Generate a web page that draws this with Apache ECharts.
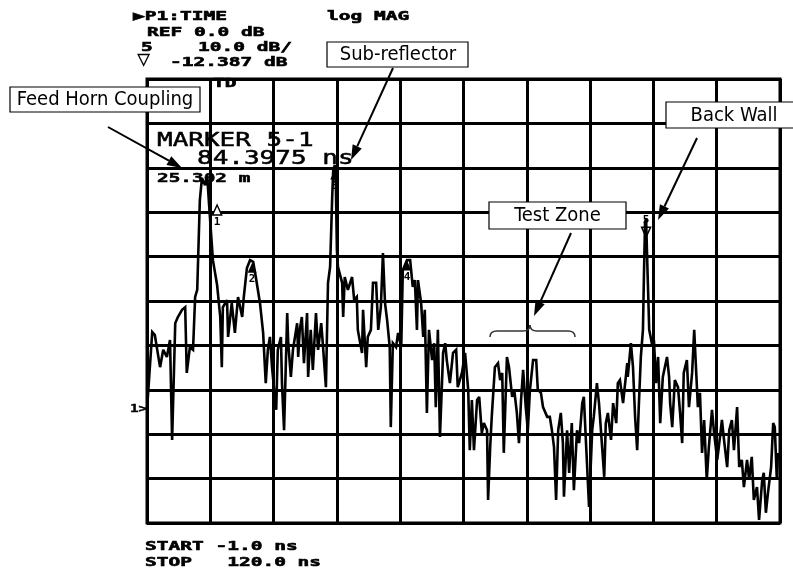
<!DOCTYPE html>
<html><head><meta charset="utf-8">
<script src="https://cdn.jsdelivr.net/npm/echarts@6/dist/echarts.min.js"></script>
<style>html,body{margin:0;padding:0;background:#fff}#c{width:793px;height:577px}</style>
</head><body><div id="c"></div>
<script>
// ---- axis settings (time domain, log MAG) ----
const startNs = -1.0, stopNs = 120.0;
const topDb = 0, bottomDb = -100, dbPerDiv = 10;

// ---- trace ----
const timeNs = [
 -1.0,0.0,0.5,1.5,2.1,2.8,3.4,3.8,4.4,4.9,5.7,6.3,6.6,7.2,7.8,8.2,8.6,9.1,9.5,10.1,
 10.5,11.0,11.6,12.4,13.0,13.3,13.5,14.3,14.5,15.2,15.8,16.4,17.2,17.5,18.1,18.7,19.3,19.8,20.6,21.2,
 21.7,22.1,22.5,22.9,23.3,23.7,24.0,24.6,24.8,25.2,25.8,26.0,26.5,26.9,27.7,27.9,28.2,28.6,29.0,29.6,
 29.8,30.3,30.7,31.3,31.7,32.3,32.6,33.2,33.6,34.0,34.4,34.6,34.9,35.1,35.3,35.5,36.3,36.5,36.8,37.4,
 38.2,38.6,39.1,39.3,40.1,40.3,40.9,41.2,41.8,42.2,42.8,43.2,43.7,44.1,44.5,44.9,45.4,45.6,46.0,46.6,
 47.0,47.6,47.9,48.7,49.3,49.8,50.2,50.6,50.8,51.4,51.8,52.1,52.5,52.9,53.5,53.9,54.2,54.6,55.0,55.6,
 56.0,56.3,56.9,57.5,58.1,58.4,59.2,59.8,60.4,60.7,61.1,61.5,62.1,62.5,63.0,63.4,64.0,64.2,64.6,64.9,
 65.5,66.1,66.5,66.9,67.2,67.8,68.2,68.8,69.2,69.7,70.1,70.5,70.9,71.4,71.8,72.2,72.8,73.4,73.7,74.3,
 74.7,75.5,76.0,76.4,76.8,77.2,77.6,78.1,78.5,78.7,79.3,79.7,80.2,80.6,81.2,81.6,82.2,82.5,83.1,83.5,
 84.1,84.4,85.0,85.4,86.0,86.4,86.7,87.1,87.7,88.1,88.7,89.0,89.4,90.0,90.4,90.8,90.9,91.5,91.9,92.3,
 92.7,93.0,93.4,93.8,94.0,94.2,94.4,94.6,95.0,95.5,95.9,96.3,96.7,97.1,97.6,98.4,98.8,99.0,99.4,99.9,
 100.5,100.9,101.3,101.6,102.2,102.6,103.2,103.6,103.9,104.3,104.7,105.1,105.5,106.0,106.4,107.0,107.4,108.0,108.3,108.9,
 109.3,109.9,110.3,110.8,111.2,111.8,112.2,112.7,113.1,113.7,114.1,114.6,115.0,115.6,116.0,116.6,116.9,117.3,117.7,118.3,
 118.7,119.0,119.4,119.6
];
const magDb = [
 -74.5,-57.0,-57.7,-64.9,-61.0,-62.6,-58.8,-81.3,-55.0,-53.6,-52.0,-51.4,-66.2,-60.4,-61.0,-49.1,-47.5,-27.3,-22.3,-23.9,
 -21.8,-30.6,-40.8,-46.4,-53.6,-64.9,-51.4,-49.8,-58.1,-50.5,-57.2,-49.1,-53.6,-49.1,-42.6,-40.8,-41.2,-44.6,-50.5,-57.2,
 -68.5,-61.0,-58.1,-64.9,-70.0,-74.5,-61.0,-58.1,-68.5,-79.1,-52.7,-59.5,-67.1,-61.0,-55.0,-62.6,-56.5,-53.6,-64.0,-52.7,
 -67.1,-56.5,-65.5,-52.7,-61.0,-55.0,-59.5,-69.4,-45.9,-42.3,-26.6,-20.5,-19.4,-23.9,-38.5,-42.3,-45.9,-53.6,-44.6,-47.5,
 -44.6,-49.8,-49.1,-56.5,-61.7,-52.0,-64.9,-58.1,-56.5,-45.9,-45.9,-56.5,-51.4,-39.2,-50.5,-54.3,-60.4,-78.4,-59.5,-60.4,
 -57.2,-60.4,-43.0,-40.8,-40.8,-46.8,-45.3,-56.5,-45.3,-50.5,-58.1,-52.0,-75.2,-56.5,-63.3,-59.5,-73.9,-56.5,-80.6,-61.7,
 -59.5,-63.3,-68.5,-61.7,-61.0,-69.4,-66.2,-61.7,-70.0,-83.6,-72.3,-83.6,-72.3,-71.6,-79.7,-77.5,-79.1,-94.8,-82.9,-76.1,
 -64.9,-64.0,-67.8,-66.2,-84.2,-62.6,-64.9,-71.6,-70.0,-75.2,-82.0,-72.3,-65.5,-73.9,-79.1,-70.0,-63.3,-63.3,-70.0,-70.7,
 -73.9,-76.1,-76.1,-79.1,-82.9,-94.8,-79.1,-75.2,-82.0,-94.1,-79.1,-88.7,-77.5,-92.6,-79.1,-82.0,-73.0,-71.6,-86.5,-96.4,
 -79.1,-76.1,-68.5,-73.0,-82.9,-89.6,-77.5,-75.2,-81.3,-73.0,-77.5,-68.5,-67.8,-73.0,-68.5,-64.0,-67.1,-59.5,-64.9,-76.1,
 -83.6,-73.9,-62.6,-56.5,-43.7,-32.4,-31.3,-40.1,-56.5,-59.5,-58.8,-68.5,-62.6,-77.5,-67.1,-62.6,-67.1,-73.0,-78.4,-67.8,
 -69.4,-75.2,-82.0,-66.2,-63.3,-73.9,-66.2,-56.5,-64.0,-73.9,-70.7,-84.2,-76.8,-90.3,-82.9,-74.5,-79.7,-85.8,-82.9,-76.8,
 -81.3,-87.4,-79.1,-76.8,-83.6,-73.9,-87.4,-85.8,-91.9,-85.8,-90.3,-85.1,-94.8,-91.9,-99.3,-90.3,-88.7,-97.7,-93.2,-87.4,
 -77.5,-78.4,-90.3,-84.2
];

// ---- trace markers ----
const markerLabels = ['1', '2', '3', '4', '5'];
const markerNs = [12.4, 19.1, 34.9, 48.7, 94.4];
const markerDb = [-29.5, -42.5, -21.5, -42.0, -34.5];

// ---- instrument annotation text ----
const headerText = ['\u25B6P1:TIME', 'log MAG', 'REF 0.0 dB', '5', '10.0 dB/', '-12.387 dB', 'TD'];
const markerReadout = ['MARKER 5-1', '84.3975 ns', '25.302 m'];
const footerText = ['START -1.0 ns', 'STOP   120.0 ns'];
const calloutLabels = ['Feed Horn Coupling', 'Sub-reflector', 'Back Wall', 'Test Zone'];

const trace = timeNs.map((t, i) => [t, magDb[i]]);

const MONO = "'DejaVu Sans Mono', 'Liberation Mono', monospace";
const COND = "'Liberation Sans Narrow', 'DejaVu Sans Condensed', 'Liberation Sans', sans-serif";

function txt(s, x, y, size, weight, sx, family, align, strokeW) {
  const st = {
    text: s, fill: '#000',
    font: (weight || 'normal') + ' ' + size + 'px ' + (family || MONO),
    align: align || 'left', verticalAlign: 'middle',
    textAlign: align || 'left', textVerticalAlign: 'middle'
  };
  if (strokeW) { st.stroke = '#000'; st.lineWidth = strokeW; }
  return { type: 'text', x: x, y: y, scaleX: sx || 1, z: 20, style: st };
}
function arrow(x1, y1, x2, y2) {
  const a = Math.atan2(y2 - y1, x2 - x1), L = 15, W = 5;
  const bx = x2 - L * Math.cos(a), by = y2 - L * Math.sin(a);
  const px = -Math.sin(a) * W, py = Math.cos(a) * W;
  return [
    { type: 'line', z: 21, shape: { x1: x1, y1: y1, x2: bx, y2: by }, style: { stroke: '#000', lineWidth: 2 } },
    { type: 'polygon', z: 21, shape: { points: [[x2, y2], [bx + px, by + py], [bx - px, by - py]] }, style: { fill: '#000' } }
  ];
}
function box(label, x, y, w, h, cx) {
  return [
    { type: 'rect', z: 19, shape: { x: x, y: y, width: w, height: h }, style: { fill: '#fff', stroke: '#000', lineWidth: 1.2 } },
    txt(label, cx, y + h / 2 + 0.5, 20, 'normal', 1.0, COND, 'center')
  ];
}
function curve(x1, y1, cx, cy, x2, y2) {
  return { type: 'bezierCurve', z: 21, shape: { x1: x1, y1: y1, cpx1: cx, cpy1: cy, x2: x2, y2: y2 },
           style: { fill: null, stroke: '#333', lineWidth: 1.5 } };
}
function seg(x1, y1, x2, y2) {
  return { type: 'line', z: 21, shape: { x1: x1, y1: y1, x2: x2, y2: y2 }, style: { stroke: '#333', lineWidth: 1.5 } };
}

const graphics = [].concat(
  txt(headerText[0], 133, 17, 13, 'bold', 1.5, null, null, 0.6),
  txt(headerText[1], 327, 17, 13, 'bold', 1.5, null, null, 0.6),
  txt(headerText[2], 147, 32.5, 13, 'bold', 1.5, null, null, 0.6),
  txt(headerText[3], 141, 47.5, 13, 'bold', 1.5, null, null, 0.6),
  txt(headerText[4], 198, 48, 13, 'bold', 1.5, null, null, 0.6),
  txt('\u25BD', 137, 60, 22, 'normal', 1.0),
  txt(headerText[5], 170, 62.5, 13, 'bold', 1.5, null, null, 0.6),
  txt(headerText[6], 213, 84, 13, 'bold', 1.5, null, null, 0.6),
  txt(markerReadout[0], 157, 140.5, 20, 'normal', 1.3, null, null, 0.5),
  txt(markerReadout[1], 197, 158.5, 20, 'normal', 1.3, null, null, 0.5),
  txt(markerReadout[2], 157, 178.5, 12.5, 'bold', 1.55, null, null, 0.5),
  txt('1>', 130, 409, 11, 'bold', 1.3, null, null, 0.4),
  txt(footerText[0], 145, 546.5, 13, 'bold', 1.5, null, null, 0.6),
  txt(footerText[1], 145, 562.5, 13, 'bold', 1.5, null, null, 0.6),
  box(calloutLabels[0], 10, 87, 190, 25, 105),
  arrow(108, 127, 182, 168),
  box(calloutLabels[1], 327, 42, 141, 25, 398),
  arrow(393, 68, 351, 160),
  box(calloutLabels[2], 666, 102, 140, 26, 734),
  arrow(697, 138, 658, 220),
  box(calloutLabels[3], 489, 202, 137, 27, 557.5),
  arrow(571, 233, 534, 316),
  curve(490, 337, 490, 331, 497, 331),
  seg(497, 331, 523, 331),
  curve(523, 331, 530, 331, 530, 325),
  curve(530, 325, 530, 331, 537, 331),
  seg(537, 331, 568, 331),
  curve(568, 331, 575, 331, 575, 337)
);

const markData = markerNs.map((t, i) => ({
  coord: [t, markerDb[i]],
  symbol: 'triangle',
  symbolSize: [9, 10],
  symbolRotate: i === 4 ? 180 : 0,
  itemStyle: i === 0 || i === 4 ? { color: '#fff', borderColor: '#000', borderWidth: 1.5 } : { color: '#000' },
  label: { show: true, formatter: markerLabels[i], position: i === 4 ? 'top' : 'bottom', distance: 1,
           color: '#000', fontFamily: MONO, fontWeight: 'bold', fontSize: 11 }
}));

const chart = echarts.init(document.getElementById('c'), null, { renderer: 'canvas' });
chart.setOption({
  animation: false,
  backgroundColor: '#fff',
  grid: { left: 147, top: 79, width: 633, height: 444, show: true, borderColor: '#000', borderWidth: 3, backgroundColor: 'transparent' },
  xAxis: [
    { type: 'value', min: startNs, max: stopNs, show: false },
    { type: 'value', min: 0, max: 10, interval: 1, axisLine: { show: false }, axisTick: { show: false }, axisLabel: { show: false },
      splitLine: { show: true, lineStyle: { color: '#000', width: 3 } } }
  ],
  yAxis: { type: 'value', min: bottomDb, max: topDb, interval: dbPerDiv, axisLine: { show: false }, axisTick: { show: false },
           axisLabel: { show: false }, splitLine: { show: true, lineStyle: { color: '#000', width: 3 } } },
  series: [{
    type: 'line', xAxisIndex: 0, yAxisIndex: 0, data: trace, showSymbol: false, z: 5,
    lineStyle: { color: '#000', width: 2.6, join: 'miter', miterLimit: 3 },
    markPoint: { data: markData, animation: false }
  }],
  graphic: graphics
});
</script></body></html>
